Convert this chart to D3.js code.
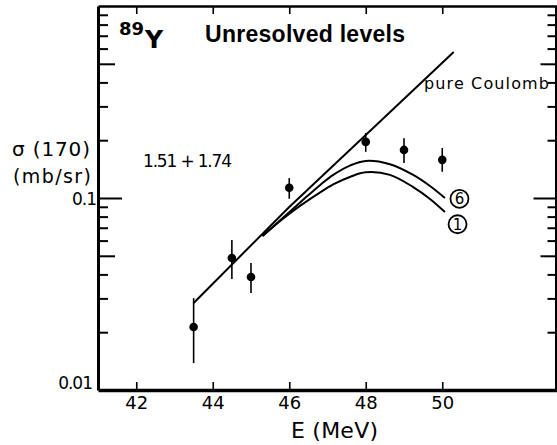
<!DOCTYPE html>
<html lang="en">
<head>
<meta charset="UTF-8">
<title>89Y unresolved levels</title>
<script src="https://cdn.jsdelivr.net/npm/d3@7"></script>
<style>
  body { margin: 0; background: #fff; }
  svg { display: block; }
  text { fill: #000; font-family: "DejaVu Sans", sans-serif; }
  .curve { fill: none; stroke: #000; stroke-width: 2px; }
  .err { stroke: #000; stroke-width: 1.6px; }
  .axis path, .axis line { stroke: #000; }
</style>
</head>
<body>
<div class="wrap"></div>
<script>
  // measured points: E (MeV) and sigma(170) with error bar ends (mb/sr)
  var energies = [43.5, 44.5, 45, 46, 48, 49, 50];
  var sigma    = [0.0213, 0.0487, 0.0388, 0.113, 0.196, 0.178, 0.158];
  var sigmaHi  = [0.0301, 0.0604, 0.0459, 0.127, 0.218, 0.205, 0.182];
  var sigmaLo  = [0.0138, 0.0379, 0.032, 0.099, 0.174, 0.152, 0.137];

  // pure Coulomb line
  var coulombE = [43.5, 46, 48, 50.3];
  var coulombS = [0.0284, 0.0898, 0.213, 0.576];

  // calculated curves (6) and (1)
  var curveE  = [45.3, 45.77, 46.29, 46.81, 47.15, 47.6, 48.0, 48.63, 49.24, 49.68, 50.07];
  var curve6S = [0.0634, 0.0768, 0.095, 0.117, 0.132, 0.148, 0.156, 0.150, 0.132, 0.1155, 0.1];
  var curve1S = [0.0634, 0.0762, 0.0912, 0.107, 0.1177, 0.129, 0.136, 0.132, 0.114, 0.0989, 0.0845];

  var xTicks = [42, 44, 46, 48, 50];
  var yTicks = [0.02, 0.03, 0.04, 0.05, 0.06, 0.07, 0.08, 0.09, 0.1,
                0.2, 0.3, 0.4, 0.5, 0.6, 0.7, 0.8, 0.9];
  var yLabels = [0.01, 0.1];

  var W = 557, H = 445;
  var x = d3.scaleLinear().domain([41, 53]).range([98, 557]);
  var y = d3.scaleLog().domain([0.01, 1]).range([390, 6]);

  var svg = d3.select(".wrap").append("svg")
      .attr("width", W).attr("height", H);

  function tickLen(v) {
    if (Math.abs(v - 0.1) < 1e-9) return 24;
    if (Math.abs(v - 0.5) < 1e-9 || Math.abs(v - 0.05) < 1e-9) return 17;
    return 10;
  }

  // left axis
  var leftAxis = svg.append("g").attr("class", "axis")
      .attr("transform", "translate(" + x(41) + ",0)")
      .call(d3.axisLeft(y).tickValues(yTicks).tickSizeOuter(0).tickFormat(""));
  leftAxis.select(".domain").attr("stroke-width", 3);
  leftAxis.selectAll(".tick line").attr("x2", function(d) { return tickLen(d); })
      .attr("stroke-width", 2);

  // right axis
  var rightAxis = svg.append("g").attr("class", "axis")
      .attr("transform", "translate(" + (x(53) - 1.5) + ",0)")
      .call(d3.axisRight(y).tickValues(yTicks).tickSizeOuter(0).tickFormat(""));
  rightAxis.select(".domain").attr("stroke-width", 2);
  rightAxis.selectAll(".tick line").attr("x2", function(d) { return -tickLen(d) + 2; })
      .attr("stroke-width", 2);

  // bottom axis
  var bottomAxis = svg.append("g").attr("class", "axis")
      .attr("transform", "translate(0," + y(0.01) + ")")
      .call(d3.axisBottom(x).tickValues(xTicks).tickSizeInner(-8).tickSizeOuter(0)
        .tickPadding(6));
  bottomAxis.select(".domain").attr("stroke-width", 3.5);
  bottomAxis.selectAll(".tick line").attr("stroke-width", 1.6);
  bottomAxis.selectAll(".tick text").attr("font-size", 18).attr("fill", "#000")
      .attr("font-family", "DejaVu Sans");

  // top axis
  var topAxis = svg.append("g").attr("class", "axis")
      .attr("transform", "translate(0," + y(1) + ")")
      .call(d3.axisTop(x).tickValues(xTicks).tickSizeInner(-8).tickSizeOuter(0).tickFormat(""));
  topAxis.select(".domain").attr("stroke-width", 2.5);
  topAxis.selectAll(".tick line").attr("stroke-width", 1.6);

  // y labels
  svg.selectAll("text.ylab").data(yLabels).enter().append("text")
      .attr("class", "ylab")
      .attr("x", function(d) { return d === 0.01 ? 92 : 96; })
      .attr("y", function(d) { return y(d) + (d === 0.01 ? -1 : 7); })
      .attr("text-anchor", "end")
      .attr("font-size", 17)
      .attr("letter-spacing", -1)
      .text(function(d) { return d === 0.01 ? "0.01" : "0.1"; });

  // axis titles
  svg.append("text").attr("x", 291).attr("y", 438).attr("font-size", 22)
      .attr("textLength", 87).text("E (MeV)");
  svg.append("text").attr("x", 12).attr("y", 156).attr("font-size", 20)
      .attr("textLength", 78).text("σ (170)");
  svg.append("text").attr("x", 13).attr("y", 183).attr("font-size", 19)
      .attr("textLength", 78).text("(mb/sr)");

  // title
  svg.append("text").attr("x", 119).attr("y", 35).attr("font-size", 18)
      .attr("font-weight", "bold").text("89");
  svg.append("text").attr("x", 145).attr("y", 48).attr("font-size", 25)
      .attr("font-weight", "bold").text("Y");
  svg.append("text").attr("x", 205).attr("y", 42).attr("font-size", 23)
      .attr("font-weight", "bold").attr("textLength", 200)
      .attr("style", "font-family: 'Liberation Sans', Arial, sans-serif").text("Unresolved levels");

  svg.append("text").attr("x", 424).attr("y", 89).attr("font-size", 16)
      .attr("textLength", 125).text("pure Coulomb");
  svg.append("text").attr("x", 143).attr("y", 167).attr("font-size", 17)
      .attr("textLength", 89).text("1.51 + 1.74");

  // lines
  var line = d3.line()
      .x(function(d) { return x(d[0]); })
      .y(function(d) { return y(d[1]); });

  svg.append("path").attr("class", "curve")
      .attr("d", line(d3.zip(coulombE, coulombS)));
  svg.append("path").attr("class", "curve")
      .attr("d", line.curve(d3.curveCatmullRom)(d3.zip(curveE, curve6S)));
  svg.append("path").attr("class", "curve")
      .attr("d", line.curve(d3.curveCatmullRom)(d3.zip(curveE, curve1S)));

  // curve markers
  var marks = [{ lab: "6", e: 50.45, s: 0.099 }, { lab: "1", e: 50.4, s: 0.073 }];
  var mk = svg.selectAll("g.mk").data(marks).enter().append("g")
      .attr("transform", function(d) { return "translate(" + x(d.e) + "," + y(d.s) + ")"; });
  mk.append("circle").attr("r", 9).attr("fill", "#fff")
      .attr("stroke", "#000").attr("stroke-width", 1.8);
  mk.append("text").attr("text-anchor", "middle").attr("y", 5.5)
      .attr("font-size", 15)
      .text(function(d) { return d.lab; });

  // data points
  var pts = d3.range(energies.length);
  svg.selectAll("line.err").data(pts).enter().append("line")
      .attr("class", "err")
      .attr("x1", function(i) { return x(energies[i]); })
      .attr("x2", function(i) { return x(energies[i]); })
      .attr("y1", function(i) { return y(sigmaHi[i]); })
      .attr("y2", function(i) { return y(sigmaLo[i]); });
  svg.selectAll("circle.dot").data(pts).enter().append("circle")
      .attr("class", "dot")
      .attr("r", 4.3)
      .attr("cx", function(i) { return x(energies[i]); })
      .attr("cy", function(i) { return y(sigma[i]); })
      .attr("fill", "#000");
</script>
</body>
</html>
